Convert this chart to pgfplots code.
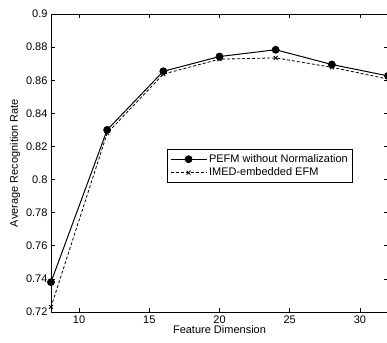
\documentclass[border=0pt]{standalone}
\usepackage{pgfplots}
\pgfplotsset{compat=1.18}
\usepackage{fontspec}
\setmainfont{Liberation Sans}
\begin{document}
\begin{tikzpicture}
\begin{axis}[
  at={(0,0)}, anchor=south west,
  scale only axis, width=337pt, height=298pt,
  xmin=8, xmax=32, ymin=0.72, ymax=0.9,
  xtick={10,15,20,25,30},
  ytick={0.72,0.74,0.76,0.78,0.8,0.82,0.84,0.86,0.88,0.9},
  yticklabels={0.72,0.74,0.76,0.78,0.8,0.82,0.84,0.86,0.88,0.9},
  tick align=inside, major tick length=4pt,
  tick style={black, line width=0.6pt},
  axis line style={line width=0.8pt},
  /pgf/number format/assume math mode=true,
  tick label style={font=\fontsize{11}{13}\selectfont},
  label style={font=\fontsize{11}{13}\selectfont},
  xlabel={Feature Dimension}, ylabel={Average Recognition Rate},
  xlabel style={yshift=5pt}, ylabel style={yshift=-1pt},
  legend style={at={(0.62,0.49)}, anchor=center, draw=black, line width=0.8pt,
    font=\fontsize{11}{13}\selectfont, inner sep=3pt, row sep=0pt,
    /tikz/every even column/.append style={column sep=2pt}},
  legend image code/.code={\draw[mark repeat=2,mark phase=2] plot coordinates {(0pt,0pt)(18pt,0pt)(36pt,0pt)};},
  legend cell align=left,
  clip=false,
]
\addplot[black, line width=1pt, mark=*, mark size=3.4pt] coordinates {
 (8,0.738) (12,0.830) (16,0.8654) (20,0.8743) (24,0.8784) (28,0.8695) (32,0.8626)};
\addlegendentry{PEFM without Normalization}
\addplot[black, line width=0.8pt, densely dashed, mark=x, mark size=2.8pt, mark options={solid}] coordinates {
 (8,0.723) (12,0.828) (16,0.8637) (20,0.8727) (24,0.8735) (28,0.8678) (32,0.8607)};
\addlegendentry{IMED-embedded EFM}
\end{axis}
\pgfresetboundingbox
\path[use as bounding box] (-51pt,-30pt) rectangle (336pt,312pt);
\end{tikzpicture}
\end{document}
